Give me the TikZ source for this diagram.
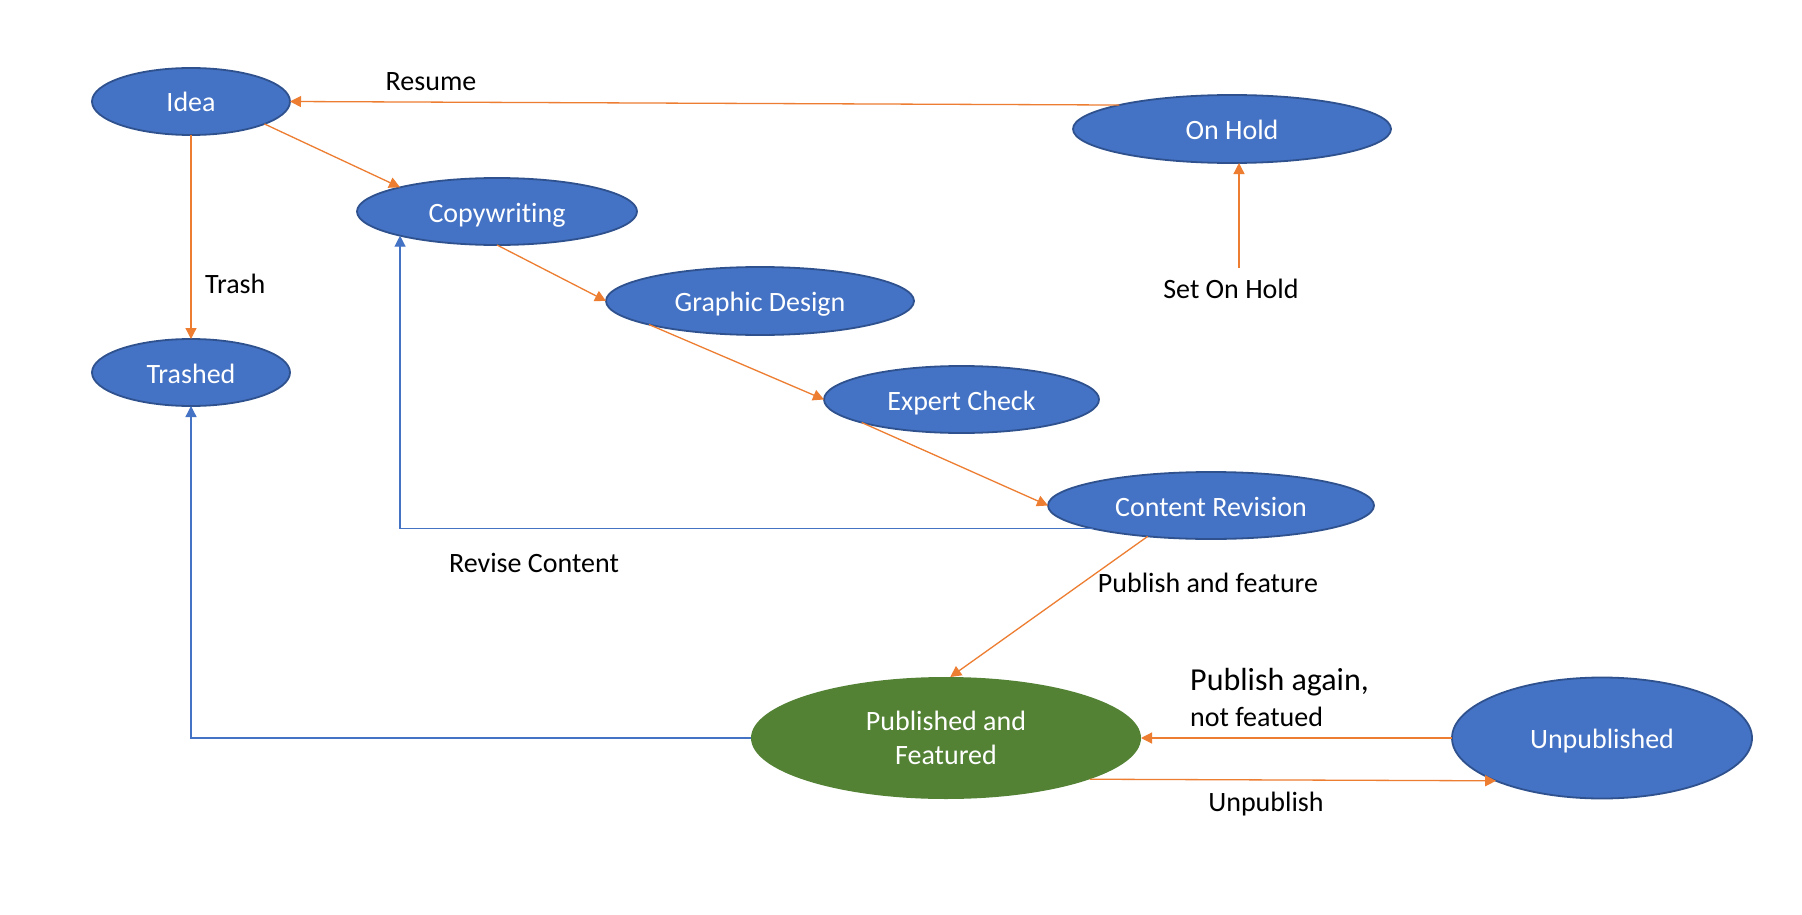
\documentclass[tikz,border=0pt]{standalone}
\usepackage{fontspec}
\setmainfont{Carlito}[Ligatures=NoCommon]
\usetikzlibrary{shapes.geometric,arrows.meta}
\definecolor{nodeblue}{HTML}{4472C4}
\definecolor{nodeedge}{HTML}{2F528F}
\definecolor{nodegreen}{HTML}{548235}
\definecolor{arrorange}{HTML}{ED7D31}
\begin{document}
\begin{tikzpicture}[x=1pt,y=-1pt,
  basestate/.style={ellipse, fill=nodeblue, draw=nodeedge, line width=1.8pt, text=white,
    font=\fontsize{28}{34}\selectfont, inner sep=0pt, outer sep=0pt},
  state/.style={basestate, text height=21pt, text depth=0pt},
  lbl/.style={font=\fontsize{28}{34}\selectfont, text=black, inner sep=0pt, text height=18pt, text depth=0pt},
  flow/.style={draw=arrorange, line width=1.3pt, -{Triangle[length=11pt,width=11pt]}},
  back/.style={draw=nodeblue, line width=1.3pt, -{Triangle[length=11pt,width=11pt]}},
]
\useasboundingbox (0,0) rectangle (1802,915);
\fill[white] (0,0) rectangle (1802,915);

% states
\node[state, minimum width=198pt, minimum height=67pt] (idea) at (191,101.5) {Idea};
\node[state, minimum width=198pt, minimum height=67pt] (trashed) at (191,372.5) {Trashed};
\node[state, minimum width=280pt, minimum height=67pt] (copy) at (497,211.5) {Copywriting};
\node[state, minimum width=308pt, minimum height=68pt] (gd) at (760,301) {Graphic Design};
\node[state, minimum width=275pt, minimum height=67pt] (ec) at (961.5,399.5) {Expert Check};
\node[state, minimum width=326pt, minimum height=67pt] (cr) at (1211,505.5) {Content Revision};
\node[state, minimum width=318pt, minimum height=68pt] (hold) at (1232,129) {On Hold};
\node[basestate, fill=nodegreen, draw=none, minimum width=390pt, minimum height=122pt, align=center] (pf) at (946,738) {Published and\\Featured};
\node[state, minimum width=300pt, minimum height=121pt] (unpub) at (1602,738) {Unpublished};

% labels
\node[lbl] (lresume) at (431,82) {Resume};
\node[lbl, anchor=west] (ltrash) at (205,284) {Trash};
\node[lbl] (lhold) at (1231,289) {Set On Hold};
\node[lbl] (lrevise) at (534,563) {Revise Content};
\node[lbl] (lpubfeat) at (1208,583) {Publish and feature};
\node[lbl, anchor=west, font=\fontsize{32}{38}\selectfont, text height=20.6pt] (lagain) at (1190,680) {Publish again,};
\node[lbl, anchor=west] (lnotfeat) at (1190,717) {not featued};
\node[lbl] (lunpub) at (1266,802) {Unpublish};

% connectors
\coordinate (holdfoot) at (1239,268);
\draw[flow] (hold.168.4) -- (idea.east);
\draw[flow] (idea.-17.5) -- (copy.166);
\draw[flow] (idea.south) -- (trashed.north);
\draw[flow] (copy.south) -- (gd.west);
\draw[flow] (gd.192.5) -- (ec.west);
\draw[flow] (ec.193.7) -- (cr.west);
\draw[flow] (cr.206.2) -- (pf.86);
\draw[flow] (holdfoot) -- (holdfoot |- hold.south);
\draw[back] (cr.191.8) -| (copy.194.2);
\draw[back] (pf.west) -| (trashed.south);
\draw[flow] (unpub.west) -- (pf.east);
\draw[flow] (pf.-16.6) -- (unpub.-158.75);
\end{tikzpicture}
\end{document}
